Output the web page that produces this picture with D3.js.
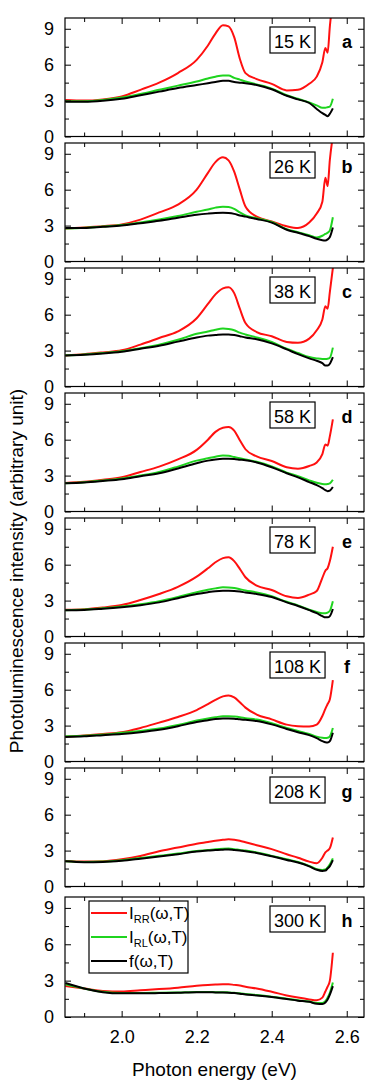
<!DOCTYPE html>
<html lang="en">
<head>
  <meta charset="UTF-8">
  <title>Photoluminescence vs temperature</title>
  <script src="https://d3js.org/d3.v7.min.js"></script>
  <style>
    body { margin: 0; background: #fff; }
    svg { display: block; font-family: "Liberation Sans", Arial, sans-serif; }
    .tick line { stroke: #000; stroke-width: 1px; }
    .tick text { font-size: 18px; fill: #000; }
  </style>
</head>
<body>
  <svg width="382" height="1089"></svg>

  <script>
    const width = 382, height = 1089;

    // photon energy grid (eV), shared by every curve
    const energy = [1.85, 1.90, 1.95, 2.00, 2.05, 2.10, 2.15, 2.20, 2.23, 2.25, 2.27, 2.285, 2.30,
                    2.315, 2.33, 2.36, 2.40, 2.44, 2.47, 2.50, 2.52, 2.535, 2.543, 2.549, 2.555, 2.563];

    const temps = ["15 K", "26 K", "38 K", "58 K", "78 K", "108 K", "208 K", "300 K"];
    const letters = ["a", "b", "c", "d", "e", "f", "g", "h"];

    // I_RR(w,T) - red
    const iRR = [
      [3.05, 3.0, 3.1, 3.35, 3.9, 4.5, 5.3, 6.4, 7.6, 8.6, 9.3, 9.2, 8.3, 6.5, 5.3, 4.8, 4.4, 3.85, 3.9, 4.4, 5.0, 6.2, 7.4, 7.0, 9.2, 11.5],
      [2.75, 2.85, 2.95, 3.1, 3.5, 4.1, 4.75, 6.0, 7.4, 8.3, 8.7, 8.45, 7.5, 6.0, 4.6, 3.75, 3.35, 2.95, 2.8, 3.25, 4.0, 5.0, 7.0, 6.3, 8.5, 10.5],
      [2.6, 2.7, 2.85, 3.02, 3.5, 4.05, 4.6, 5.7, 6.9, 7.7, 8.2, 8.3, 7.8, 6.5, 5.3, 4.55, 4.2, 3.72, 3.65, 4.0, 4.7, 5.6, 6.7, 6.5, 7.9, 9.9],
      [2.38, 2.48, 2.65, 2.86, 3.3, 3.75, 4.35, 5.15, 6.0, 6.65, 7.0, 7.05, 6.75, 5.95, 5.2, 4.6, 4.22, 3.7, 3.58, 3.8, 4.1, 4.8, 5.6, 5.5, 6.3, 7.7],
      [2.24, 2.28, 2.42, 2.63, 3.05, 3.55, 4.15, 5.0, 5.7, 6.2, 6.55, 6.62, 6.3, 5.65, 4.95, 4.25, 3.88, 3.36, 3.22, 3.5, 3.8, 4.9, 5.5, 5.7, 6.3, 7.5],
      [2.07, 2.18, 2.3, 2.44, 2.8, 3.25, 3.72, 4.3, 4.8, 5.15, 5.44, 5.52, 5.35, 4.95, 4.5, 3.92, 3.52, 3.08, 2.95, 2.92, 3.08, 3.8, 4.4, 4.8, 5.2, 6.8],
      [2.14, 2.08, 2.12, 2.28, 2.55, 2.95, 3.25, 3.58, 3.72, 3.82, 3.9, 3.94, 3.9, 3.82, 3.7, 3.45, 3.12, 2.7, 2.4, 2.08, 1.94, 2.4, 2.85, 3.0, 3.2, 4.1],
      [2.55, 2.35, 2.15, 2.1, 2.2, 2.3, 2.42, 2.58, 2.65, 2.68, 2.7, 2.7, 2.65, 2.6, 2.5, 2.35, 2.08, 1.78, 1.6, 1.45, 1.38, 1.6, 2.1, 2.5, 3.0, 5.3]
    ];

    // I_RL(w,T) - green
    const iRL = [
      [2.95, 2.95, 3.05, 3.25, 3.55, 3.9, 4.25, 4.6, 4.85, 5.0, 5.1, 5.1, 4.9, 4.75, 4.6, 4.35, 4.0, 3.45, 3.15, 2.85, 2.6, 2.4, 2.4, 2.45, 2.5, 3.15],
      [2.75, 2.82, 2.92, 3.05, 3.25, 3.5, 3.8, 4.15, 4.35, 4.5, 4.58, 4.55, 4.4, 4.1, 3.85, 3.62, 3.3, 2.7, 2.45, 2.2, 2.0, 2.15, 2.3, 2.4, 2.6, 3.7],
      [2.6, 2.68, 2.8, 2.95, 3.2, 3.5, 3.9, 4.4, 4.6, 4.75, 4.84, 4.8, 4.7, 4.5, 4.35, 4.1, 3.72, 3.15, 2.8, 2.46, 2.35, 2.3, 2.3, 2.32, 2.4, 3.25],
      [2.35, 2.45, 2.58, 2.75, 3.0, 3.3, 3.75, 4.25, 4.45, 4.58, 4.68, 4.65, 4.55, 4.45, 4.35, 4.15, 3.77, 3.25, 2.95, 2.6, 2.4, 2.3, 2.28, 2.3, 2.35, 2.65],
      [2.2, 2.25, 2.35, 2.5, 2.7, 2.95, 3.3, 3.7, 3.9, 4.02, 4.12, 4.1, 4.05, 3.95, 3.85, 3.68, 3.36, 2.9, 2.6, 2.24, 2.05, 1.95, 1.95, 2.0, 2.15, 2.95],
      [2.1, 2.15, 2.25, 2.4, 2.55, 2.75, 3.05, 3.42, 3.6, 3.7, 3.78, 3.78, 3.75, 3.7, 3.62, 3.5, 3.2, 2.8, 2.55, 2.3, 2.08, 1.98, 1.96, 1.98, 2.1, 2.8],
      [2.1, 2.05, 2.08, 2.2, 2.38, 2.56, 2.75, 2.97, 3.05, 3.12, 3.16, 3.17, 3.12, 3.05, 3.0, 2.85, 2.56, 2.28, 2.05, 1.72, 1.45, 1.38, 1.42, 1.6, 1.85, 2.35],
      [2.7, 2.35, 2.08, 1.98, 1.98, 2.0, 2.02, 2.06, 2.06, 2.05, 2.05, 2.03, 2.0, 1.95, 1.9, 1.82, 1.68, 1.5, 1.38, 1.28, 1.15, 1.15, 1.3, 1.6, 2.0, 2.85]
    ];

    // f(w,T) - black
    const fT = [
      [2.9, 2.9, 2.98, 3.15, 3.45, 3.75, 4.05, 4.3, 4.45, 4.55, 4.65, 4.65, 4.55, 4.5, 4.45, 4.3, 3.95, 3.4, 3.1, 2.8, 2.3, 1.95, 1.8, 1.7, 1.9, 2.35],
      [2.8, 2.8, 2.9, 3.0, 3.2, 3.4, 3.65, 3.9, 4.0, 4.05, 4.07, 4.05, 3.98, 3.85, 3.75, 3.55, 3.25, 2.65, 2.4, 2.12, 1.9, 1.78, 1.76, 1.85, 2.05, 2.85],
      [2.6, 2.65, 2.75, 2.9, 3.15, 3.4, 3.75, 4.1, 4.25, 4.3, 4.35, 4.35, 4.3, 4.2, 4.1, 3.95, 3.6, 3.1, 2.7, 2.35, 2.15, 1.95, 1.75, 1.75, 1.9, 2.45],
      [2.35, 2.42, 2.55, 2.7, 2.95, 3.2, 3.6, 4.03, 4.25, 4.35, 4.4, 4.4, 4.38, 4.33, 4.28, 4.1, 3.7, 3.2, 2.85, 2.46, 2.2, 1.95, 1.78, 1.7, 1.75, 2.05],
      [2.2, 2.22, 2.32, 2.45, 2.62, 2.85, 3.2, 3.55, 3.7, 3.78, 3.82, 3.82, 3.8, 3.75, 3.68, 3.55, 3.3, 2.85, 2.55, 2.2, 1.95, 1.7, 1.6, 1.6, 1.7, 2.3],
      [2.05, 2.1, 2.2, 2.3, 2.45, 2.65, 2.95, 3.3, 3.45, 3.55, 3.6, 3.6, 3.58, 3.52, 3.48, 3.38, 3.1, 2.72, 2.45, 2.2, 1.95, 1.7, 1.6, 1.58, 1.7, 2.4],
      [2.1, 2.03, 2.05, 2.15, 2.32, 2.5, 2.7, 2.92, 3.0, 3.05, 3.08, 3.1, 3.05, 3.0, 2.95, 2.8, 2.52, 2.22, 2.0, 1.68, 1.4, 1.3, 1.33, 1.5, 1.7, 2.2],
      [2.8, 2.35, 2.05, 1.95, 1.95, 1.97, 2.0, 2.04, 2.04, 2.03, 2.02, 2.0, 1.97, 1.92, 1.86, 1.78, 1.65, 1.48, 1.35, 1.25, 1.1, 1.08, 1.2, 1.45, 1.85, 2.55]
    ];

    const xMajor = [2.0, 2.2, 2.4, 2.6];
    const xMinor = [1.9, 2.1, 2.3, 2.5];
    const yMajor = [0, 3, 6, 9];
    const yMinor = [1.5, 4.5, 7.5];

    const series = [
      { name: "RR", values: iRR, color: "#ff1010" },
      { name: "RL", values: iRL, color: "#1fd41f" },
      { name: "f",  values: fT,  color: "#000000" }
    ];

    const left = 65, right = 364;
    const x = d3.scaleLinear().domain([1.849, 2.646]).range([left, right]);

    const svg = d3.select("svg");

    letters.forEach((letter, i) => {
      const top = i < 7 ? 18 + i * 125 : 897;
      const h = i < 7 ? 118.5 : 120;
      const y = d3.scaleLinear().domain([0, 9.9]).range([top + h, top]);
      const last = i === letters.length - 1;

      const g = svg.append("g");

      g.append("clipPath").attr("id", "clip" + i)
        .append("rect").attr("x", left).attr("y", top).attr("width", right - left).attr("height", h);

      // curves
      const line = d3.line()
        .x((d, j) => x(energy[j]))
        .y(d => y(d))
        .curve(d3.curveMonotoneX);

      const curves = g.append("g").attr("clip-path", `url(#clip${i})`);
      series.forEach(s => {
        curves.append("path")
          .attr("d", line(s.values[i]))
          .attr("fill", "none")
          .attr("stroke", s.color)
          .attr("stroke-width", 2)
          .attr("stroke-linejoin", "round");
      });

      // axes, ticks pointing inward on every side
      const addAxis = (axis, tx, ty) => {
        const a = g.append("g").attr("transform", `translate(${tx},${ty})`).call(axis);
        a.select(".domain").remove();
        return a;
      };
      addAxis(d3.axisBottom(x).tickValues(xMajor).tickSize(-6).tickPadding(13)
        .tickFormat(last ? d3.format(".1f") : ""), 0, top + h);
      addAxis(d3.axisBottom(x).tickValues(xMinor).tickSize(-4).tickFormat(""), 0, top + h);
      addAxis(d3.axisTop(x).tickValues(xMajor).tickSize(-6).tickFormat(""), 0, top);
      addAxis(d3.axisTop(x).tickValues(xMinor).tickSize(-4).tickFormat(""), 0, top);
      addAxis(d3.axisLeft(y).tickValues(yMajor).tickSize(-6).tickPadding(11).tickFormat(d3.format("d")), left, 0);
      addAxis(d3.axisLeft(y).tickValues(yMinor).tickSize(-4).tickFormat(""), left, 0);
      addAxis(d3.axisRight(y).tickValues(yMajor).tickSize(-6).tickFormat(""), right, 0);
      addAxis(d3.axisRight(y).tickValues(yMinor).tickSize(-4).tickFormat(""), right, 0);

      g.append("rect")
        .attr("x", left).attr("y", top).attr("width", right - left).attr("height", h)
        .attr("fill", "none").attr("stroke", "#000").attr("stroke-width", 1.2);

      // temperature box
      const tBox = g.append("rect")
        .attr("x", 270).attr("y", top + 9)
        .attr("height", 26)
        .attr("fill", "#fff").attr("stroke", "#000").attr("stroke-width", 1.2);
      const tText = g.append("text")
        .attr("x", 274).attr("y", top + 30)
        .attr("font-size", 18)
        .text(temps[i]);
      tBox.attr("width", tText.node().getBBox().width + 8);

      // panel letter
      g.append("text")
        .attr("x", 347).attr("y", top + 30)
        .attr("text-anchor", "middle")
        .attr("font-size", 18).attr("font-weight", "bold")
        .text(letter);

      if (last) {
        // legend
        const lg = g.append("g");
        lg.append("rect")
          .attr("x", 89).attr("y", 901).attr("width", 99).attr("height", 72)
          .attr("fill", "#fff").attr("stroke", "#000").attr("stroke-width", 1.2);
        const entries = [
          { main: "I", sub: "RR", rest: "(ω,T)" },
          { main: "I", sub: "RL", rest: "(ω,T)" },
          { main: "f", sub: "", rest: "(ω,T)" }
        ];
        entries.forEach((e, k) => {
          const cy = 913 + k * 24;
          lg.append("line")
            .attr("x1", 91).attr("x2", 127).attr("y1", cy).attr("y2", cy)
            .attr("stroke", series[k].color).attr("stroke-width", 2);
          const t = lg.append("text").attr("x", 129).attr("y", cy + 6).attr("font-size", 17);
          t.append("tspan").text(e.main);
          if (e.sub) {
            t.append("tspan").attr("font-size", 11).attr("dy", 4).text(e.sub);
            t.append("tspan").attr("dy", -4).text(e.rest);
          } else {
            t.append("tspan").text(e.rest);
          }
        });
      }
    });

    // axis titles
    svg.append("text")
      .attr("x", (left + right) / 2).attr("y", 1076)
      .attr("text-anchor", "middle")
      .attr("font-size", 19)
      .text("Photon energy (eV)");

    svg.append("text")
      .attr("transform", "translate(23,571) rotate(-90)")
      .attr("text-anchor", "middle")
      .attr("font-size", 19)
      .text("Photoluminescence intensity (arbitrary unit)");
  </script>
</body>
</html>
